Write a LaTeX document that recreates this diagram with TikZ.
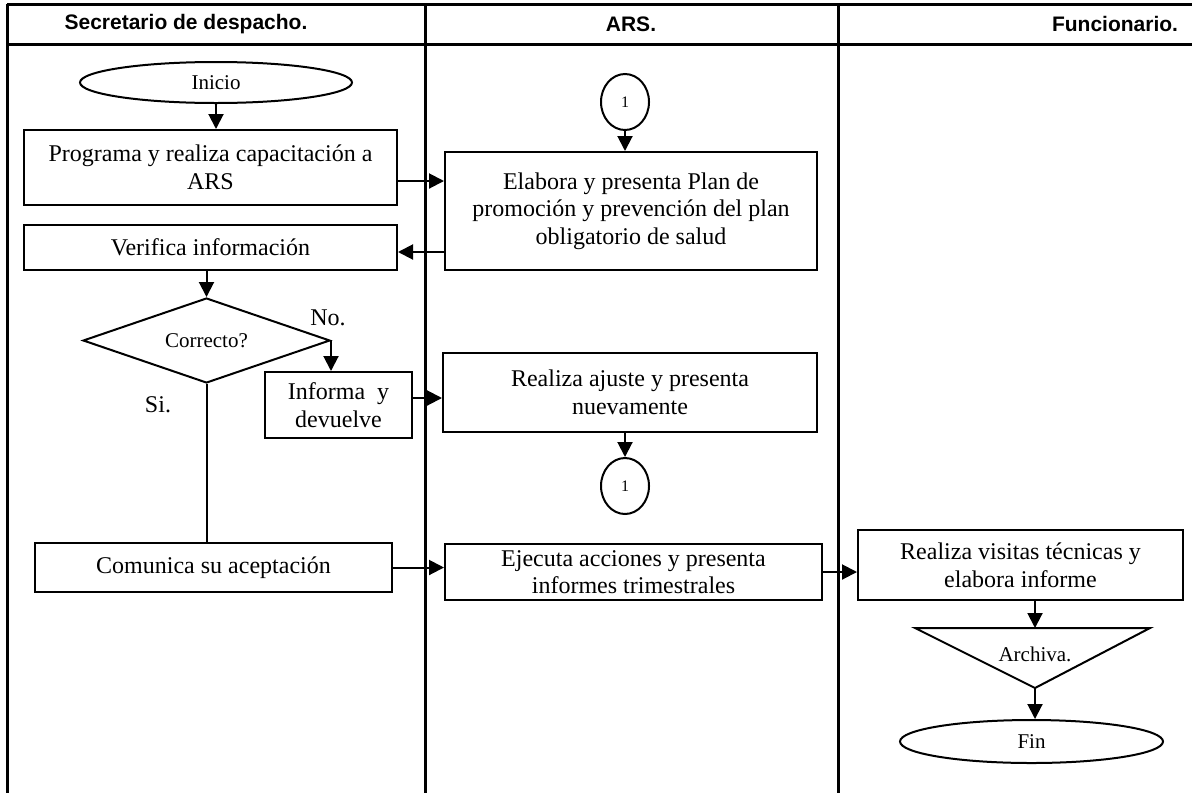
\documentclass[tikz,border=0pt]{standalone}
\usepackage{fontspec}
\setmainfont{Liberation Serif}
\setsansfont{Liberation Sans}
\usetikzlibrary{arrows.meta,shapes.geometric}

\begin{document}
\begin{tikzpicture}[x=0.5pt, y=-0.5pt,
    proc/.style={draw, line width=1pt, fill=none, align=center,
                 inner sep=1pt, font=\fontsize{12}{13.8}\selectfont},
    term/.style={draw, ellipse, line width=1pt, inner sep=0pt,
                 font=\fontsize{10.5}{12}\selectfont},
    conn/.style={draw, ellipse, line width=1pt, inner sep=0pt,
                 minimum width=24pt, minimum height=28pt,
                 font=\fontsize{8}{9}\selectfont},
    dec/.style={draw, diamond, aspect=2.9, line width=1pt, inner sep=0pt,
                font=\fontsize{10.5}{12}\selectfont},
    lab/.style={font=\fontsize{12}{13.8}\selectfont},
    lane/.style={line width=1.5pt},
    head/.style={font=\sffamily\bfseries\fontsize{10.5}{12}\selectfont},
    flow/.style={line width=1pt, -{Triangle[length=7.5pt,width=7.5pt]}}]

  \useasboundingbox (0,0) rectangle (1192,793);

  % swimlanes
  \draw[lane] (7,4) -- (1192,4);
  \draw[lane] (7,44) -- (1192,44);
  \draw[lane] (7,4) -- (7,793);
  \draw[lane] (425,4) -- (425,793);
  \draw[lane] (838,4) -- (838,793);
  \node[head] (h1) at (186,24) {Secretario de despacho.};
  \node[head] (h2) at (631,24) {ARS.};
  \node[head] (h3) at (1115,24) {Funcionario.};

  % secretario de despacho
  \node[term, minimum width=136pt, minimum height=20.5pt] (ini) at (216,82.5) {Inicio};
  \node[proc, minimum width=186.5pt, minimum height=37.5pt] (prog) at (210.5,167.5)
       {Programa y realiza capacitación a\\ARS};
  \node[proc, minimum width=186.5pt, minimum height=22.5pt] (verif) at (210.5,247.5)
       {Verifica información};
  \node[dec, minimum width=123.5pt, minimum height=42.5pt] (corr) at (206.5,340.5) {Correcto?};
  \node[proc, minimum width=73.5pt, minimum height=33pt] (inf) at (338.5,405)
       {Informa~ y\\devuelve};
  \node[proc, minimum width=178.5pt, minimum height=24.5pt] (com) at (213.5,567.5)
       {Comunica su aceptación};
  \node[lab] (no) at (328,318) {No.};
  \node[lab] (si) at (158,405) {Si.};

  % ARS
  \node[conn] (c1) at (625,102) {1};
  \node[proc, minimum width=186pt, minimum height=59pt] (elab) at (631,211)
       {Elabora y presenta Plan de\\promoción y prevención del plan\\obligatorio de salud};
  \node[proc, minimum width=187pt, minimum height=39.5pt] (ajus) at (630,392.5)
       {Realiza ajuste y presenta\\nuevamente};
  \node[conn] (c2) at (625,486) {1};
  \node[proc, minimum width=188.5pt, minimum height=28pt] (ejec) at (633.5,572)
       {Ejecuta acciones y presenta\\informes trimestrales};

  % funcionario
  \node[proc, minimum width=162.5pt, minimum height=35pt] (visit) at (1020.5,565)
       {Realiza visitas técnicas y\\elabora informe};
  \coordinate (archtop) at (1035,628);
  \coordinate (archbot) at (1035,688);
  \draw[line width=1pt] (915,628) -- (1150,628) -- (archbot) -- cycle;
  \node[font=\fontsize{10.5}{12}\selectfont] (arch) at (1035,654) {Archiva.};
  \node[term, minimum width=131.5pt, minimum height=21.5pt] (fin) at (1031.5,741.5) {Fin};

  % connectors
  \coordinate (p1) at ([yshift=-6.75pt]prog.east);
  \coordinate (p2) at ([yshift=-2.25pt]verif.east);
  \coordinate (p3) at ([yshift=3.5pt]inf.east);
  \path[flow] (ini.south) edge (ini.south |- prog.north);
  \path[flow] (p1) edge (p1 -| elab.west);
  \path[flow] (p2 -| elab.west) edge (p2);
  \path[flow] (c1.south) edge (c1.south |- elab.north);
  \path[flow] (corr.north |- verif.south) edge (corr.north);
  \path[flow] (corr.east) edge (corr.east |- inf.north);
  \path[flow] (p3) edge (p3 -| ajus.west);
  \path[flow] (c2.north |- ajus.south) edge (c2.north);
  \draw[line width=1pt] (corr.south) -- (corr.south |- com.north);
  \path[flow] (com.east) edge (com.east -| ejec.west);
  \path[flow] (ejec.east) edge (ejec.east -| visit.west);
  \path[flow] (visit.south -| archtop) edge (archtop);
  \path[flow] (archbot) edge (archbot |- fin.north);
\end{tikzpicture}
\end{document}
